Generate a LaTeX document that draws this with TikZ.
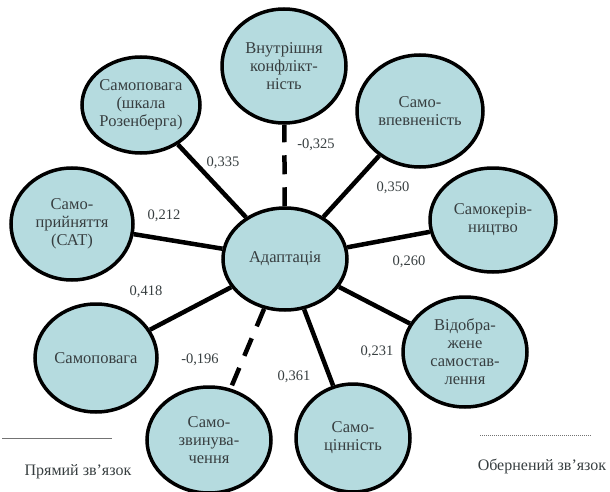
\documentclass[tikz,border=0pt]{standalone}
\usepackage{fontspec}
\setmainfont{Liberation Serif}
\usetikzlibrary{shapes.geometric}
\definecolor{nodefill}{RGB}{181,219,223}
\definecolor{txt}{RGB}{55,62,64}
\tikzset{
  bubble/.style={ellipse, draw=black, line width=3.5pt, fill=nodefill, inner sep=0pt,
    align=center, text=txt, font=\fontsize{16.5}{18}\selectfont},
  link/.style={line width=4.5pt, draw=black},
  neglink/.style={line width=4.5pt, draw=black, dash pattern=on 19pt off 13pt},
  coef/.style={text=txt, font=\fontsize{14.5}{16}\selectfont, inner sep=0pt},
  legend/.style={text=txt, font=\fontsize{16}{18}\selectfont, inner sep=0pt},
}
\begin{document}
\begin{tikzpicture}[x=1pt,y=-1pt]
\useasboundingbox (0,0) rectangle (610,492);
% nodes
\node[bubble, minimum width=124pt, minimum height=102pt] (c) at (285,259) {Адаптація};
\node[bubble, minimum width=124pt, minimum height=114pt] (vk) at (284,66) {Внутрішня\\конфлікт-\\ність};
\node[bubble, minimum width=118pt, minimum height=96pt] (rz) at (141,105) {Самоповага\\(шкала\\Розенберга)};
\node[bubble, minimum width=122pt, minimum height=112pt] (sp) at (72,224) {Само-\\прийняття\\(САТ)};
\node[bubble, minimum width=122pt, minimum height=108pt] (sa) at (96,358) {Самоповага};
\node[bubble, minimum width=124pt, minimum height=106pt] (sz) at (209,440) {Само-\\звинува-\\чення};
\node[bubble, minimum width=114pt, minimum height=108pt] (sc) at (353,438) {Само-\\цінність};
\node[bubble, minimum width=124pt, minimum height=110pt] (vs) at (465,352) {Відобра-\\жене\\самостав-\\лення};
\node[bubble, minimum width=126pt, minimum height=104pt] (sk) at (493,220) {Самокерів-\\ництво};
\node[bubble, minimum width=126pt, minimum height=112pt] (sv) at (420,111) {Само-\\впевненість};
% connectors
\draw[neglink] (c) -- (vk);
\draw[link] (c) -- (rz);
\draw[link] (c) -- (sp);
\draw[link] (c) -- (sa);
\draw[neglink] (c) -- (sz);
\draw[link] (c) -- (sc);
\draw[link] (c) -- (vs);
\draw[link] (c) -- (sk);
\draw[link] (c) -- (sv);
% coefficients
\node[coef] (l1) at (223,163) {0,335};
\node[coef] (l2) at (316,145) {-0,325};
\node[coef] (l3) at (393,188) {0,350};
\node[coef] (l4) at (164,216) {0,212};
\node[coef] (l5) at (409,262) {0,260};
\node[coef] (l6) at (146,292) {0,418};
\node[coef] (l7) at (200,360) {-0,196};
\node[coef] (l8) at (294,377) {0,361};
\node[coef] (l9) at (377,352) {0,231};
% legend
\coordinate (a1) at (2,438);
\coordinate (a2) at (112,438);
\draw[line width=0.8pt, draw=black!55] (a1) -- (a2);
\coordinate (b1) at (480,435);
\coordinate (b2) at (592,435);
\draw[line width=0.8pt, draw=black!55, dash pattern=on 1pt off 1pt] (b1) -- (b2);
\node[legend] (t1) at (78,472) {Прямий зв’язок};
\node[legend] (t2) at (542,466) {Обернений зв’язок};
\end{tikzpicture}
\end{document}
